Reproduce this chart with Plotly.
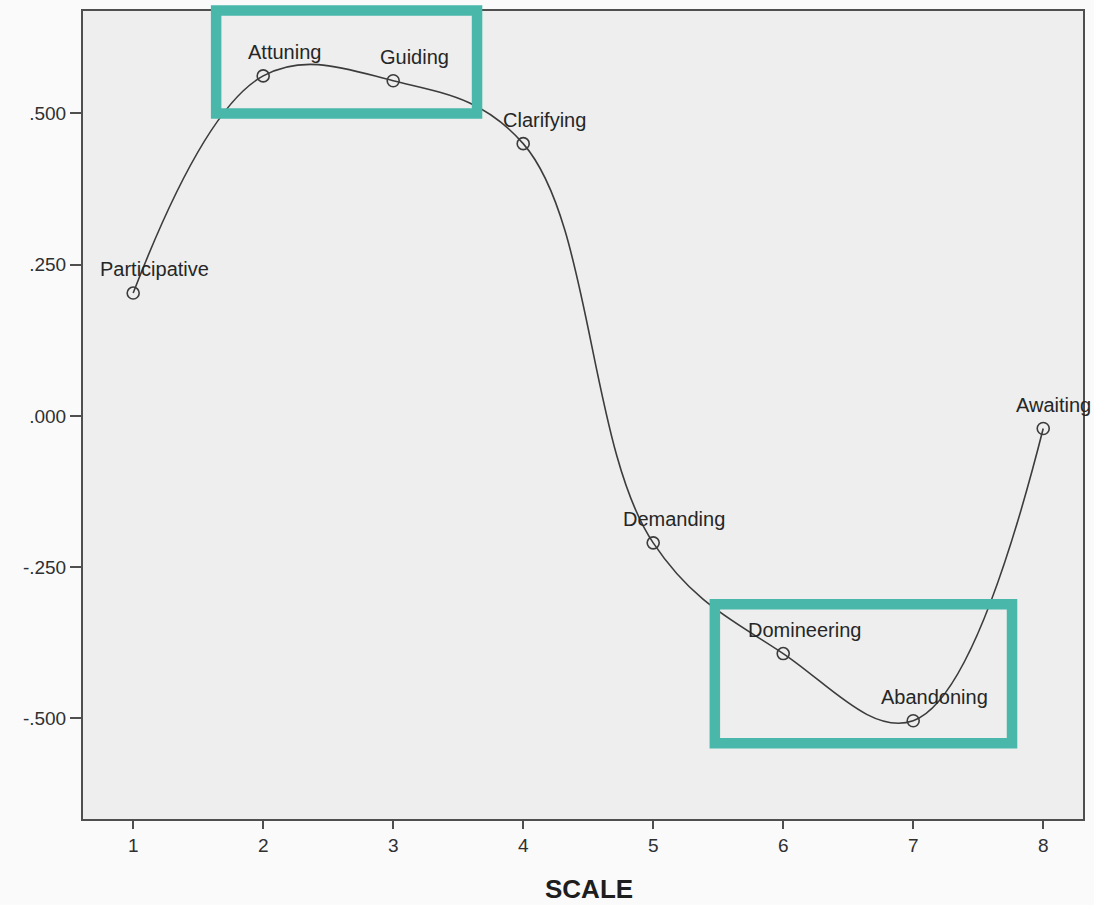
import plotly.graph_objects as go

# ---- data ----
scale = [1, 2, 3, 4, 5, 6, 7, 8]
values = [0.203, 0.562, 0.554, 0.450, -0.210, -0.393, -0.504, -0.021]
labels = ["Participative", "Attuning", "Guiding", "Clarifying",
          "Demanding", "Domineering", "Abandoning", "Awaiting"]
y_tickvals = [0.5, 0.25, 0.0, -0.25, -0.5]
y_ticktext = [".500", ".250", ".000", "-.250", "-.500"]
x_tickvals = [1, 2, 3, 4, 5, 6, 7, 8]
x_title = "SCALE"

# highlight boxes (x and y in data units): x0, x1, y0, y1
box_x0 = [1.638, 5.474]
box_x1 = [3.645, 7.760]
box_y0 = [0.4997, -0.5413]
box_y1 = [0.6700, -0.3114]

AX = "#4f4f4f"
TEAL = "#49b8aa"
FONT = "Liberation Sans, Arial, sans-serif"
Y_RANGE = [-0.6665, 0.6693]
X_RANGE = [0.614, 8.306]


def to_paper(v):
    return (v - Y_RANGE[0]) / (Y_RANGE[1] - Y_RANGE[0])


fig = go.Figure()
fig.add_trace(go.Scatter(
    x=scale, y=values, mode="lines+markers",
    line=dict(shape="spline", smoothing=1.1, color="#3c3c3c", width=1.6),
    marker=dict(symbol="circle-open", size=12, color="#3c3c3c",
                line=dict(width=1.6, color="#3c3c3c")),
    hoverinfo="skip", showlegend=False,
))

# horizontal label offsets (pixels); last label pulled in to stay inside the window
label_dx = [21, 21, 21, 21, 21, 21, 21, 10]
for xv, yv, t, dx in zip(scale, values, labels, label_dx):
    fig.add_annotation(x=xv, y=yv, text=t, showarrow=False,
                       xshift=dx, yshift=24, xanchor="center", yanchor="middle",
                       font=dict(family=FONT, size=20, color="#262626"))

for x0, x1, y0, y1 in zip(box_x0, box_x1, box_y0, box_y1):
    fig.add_shape(type="rect", xref="x", yref="paper",
                  x0=x0, x1=x1, y0=to_paper(y0), y1=to_paper(y1),
                  line=dict(color=TEAL, width=10.5), fillcolor="rgba(0,0,0,0)",
                  layer="above")

# axis title placed as an annotation below the axis
fig.add_annotation(xref="paper", yref="paper", x=0.5, y=0, xshift=6, yshift=-70,
                   text="<b>" + x_title + "</b>", showarrow=False,
                   xanchor="center", yanchor="middle",
                   font=dict(family=FONT, size=26, color="#1e1e1e"))

fig.update_layout(
    width=1094, height=905,
    margin=dict(l=83, r=9, t=11, b=86),
    paper_bgcolor="#fafafb", plot_bgcolor="#edeeed",
    font=dict(family=FONT, color="#262626"),
    showlegend=False,
)
fig.update_xaxes(
    range=X_RANGE, tickmode="array", tickvals=x_tickvals,
    ticks="outside", ticklen=8, tickwidth=2, tickcolor=AX,
    showline=True, linecolor=AX, linewidth=2, mirror=True,
    showgrid=False, zeroline=False,
    tickfont=dict(family=FONT, size=19, color="#303030"),
)
fig.update_yaxes(
    range=Y_RANGE, tickmode="array", tickvals=y_tickvals, ticktext=y_ticktext,
    ticks="outside", ticklen=11, tickwidth=2, tickcolor=AX,
    showline=True, linecolor=AX, linewidth=2, mirror=True,
    showgrid=False, zeroline=False,
    tickfont=dict(family=FONT, size=19, color="#303030"),
)

fig.write_html("out.html",
               config={"displayModeBar": False},
               post_script="document.body.style.margin='0';document.body.style.overflow='hidden';")
